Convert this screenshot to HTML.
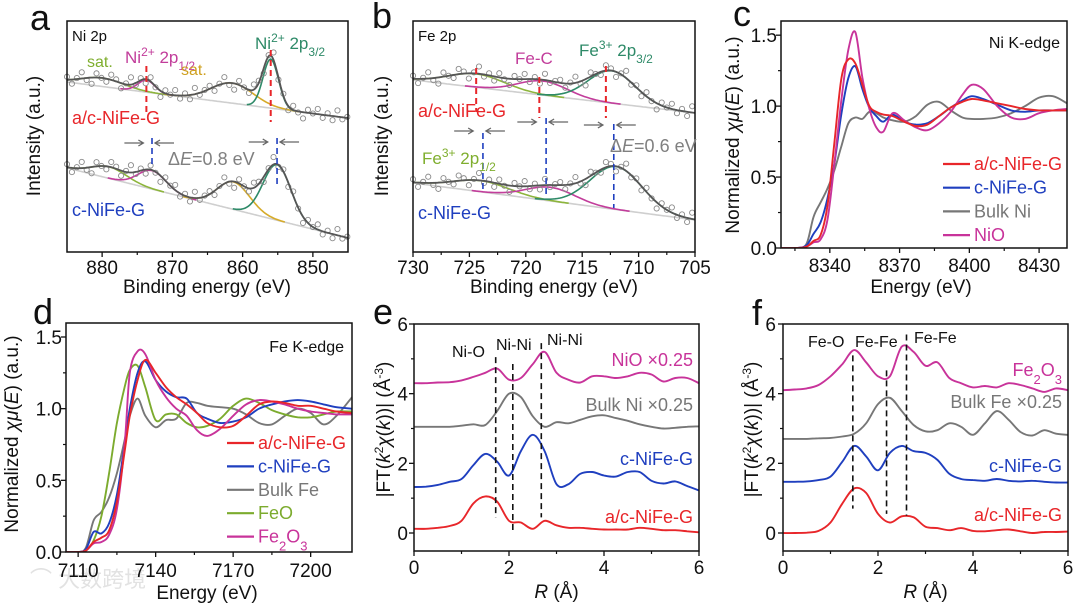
<!DOCTYPE html>
<html><head><meta charset="utf-8"><style>
html,body{margin:0;padding:0;background:#fff}
svg{display:block;font-family:"Liberation Sans","Noto Sans CJK SC",sans-serif}
</style></head><body>
<svg id="fig" width="1080" height="609" viewBox="0 0 1080 609">
<text x="30" y="587" font-size="22" fill="#e2e2e2">⌒ 大数跨境</text>
</svg>
<script>
const NS='http://www.w3.org/2000/svg';
const svg=document.getElementById('fig');
function el(tag,attrs,parent){const e=document.createElementNS(NS,tag);for(const k in attrs)e.setAttribute(k,attrs[k]);(parent||svg).appendChild(e);return e;}
function lin(d0,d1,r0,r1){return v=>r0+(v-d0)*(r1-r0)/(d1-d0);}
function smooth(pts){let d='M'+pts[0][0].toFixed(1)+','+pts[0][1].toFixed(1);
 for(let i=0;i<pts.length-1;i++){const p0=pts[Math.max(0,i-1)],p1=pts[i],p2=pts[i+1],p3=pts[Math.min(pts.length-1,i+2)];
 const c1=[p1[0]+(p2[0]-p0[0])/6,p1[1]+(p2[1]-p0[1])/6],c2=[p2[0]-(p3[0]-p1[0])/6,p2[1]-(p3[1]-p1[1])/6];
 d+='C'+c1.map(v=>v.toFixed(1))+' '+c2.map(v=>v.toFixed(1))+' '+p2[0].toFixed(1)+','+p2[1].toFixed(1);}return d;}
function poly(pts){return 'M'+pts.map(p=>p[0].toFixed(1)+','+p[1].toFixed(1)).join('L');}
function txt(x,y,s,opt,name){const t=el('text',{x:x,y:y,'font-size':opt.size||18,fill:opt.fill||'#111','text-anchor':opt.anchor||'start'});
 if(opt.rot)t.setAttribute('transform','rotate(-90 '+x+' '+y+')');
 t.innerHTML=s;
 
 
 return t;}
const SUP='<tspan baseline-shift="super" font-size="12">', SUB='<tspan baseline-shift="sub" font-size="12">', E='</tspan>';

function axes(name,box,xs,ys,xt,xm,yt,ym,xfmt,yfmt,xlabY,ylabX){
 const g=el('g',{});
 
 
 xt.forEach(v=>{const x=xs(v);const l=el('line',{x1:x,x2:x,y1:box[3],y2:box[3]+5,stroke:'#111','stroke-width':1.3},g);
  
  
  txt(x,xlabY,xfmt(v),{size:19,anchor:'middle'},name+'-x-tick-label');});
 xm.forEach(v=>{const x=xs(v);const l=el('line',{x1:x,x2:x,y1:box[3],y2:box[3]+3,stroke:'#111','stroke-width':1.2},g);
  
  });
 yt.forEach(v=>{const y=ys(v);const l=el('line',{x1:box[0]-5,x2:box[0],y1:y,y2:y,stroke:'#111','stroke-width':1.3},g);
  
  
  txt(ylabX,y+7,yfmt(v),{size:19,anchor:'end'},name+'-y-tick-label');});
 ym.forEach(v=>{const y=ys(v);const l=el('line',{x1:box[0]-3,x2:box[0],y1:y,y2:y,stroke:'#111','stroke-width':1.2},g);
  
  });
 return g;}
function frame(name,box){const r=el('rect',{x:box[0],y:box[1],width:box[2]-box[0],height:box[3]-box[1],fill:'none',stroke:'#111','stroke-width':1.5});
 
 }
function line(name,d,color,w,dash){const p=el('path',{d:d,fill:'none',stroke:color,'stroke-width':w||1.8,'stroke-dasharray':dash||'none'});
 
 return p;}

/* ---------- XPS data ---------- */
const noiseOffsets=[1.5,-2,0.5,3,-1,-3,2,0,-1.5,2.5,1,-2.5,0.5,3.5,-1,1,-2,2,-0.5,-3,1.5,0,2.5,-1.5,1,-2,3,-1,0.5];
const aTopBg=[73.6,58.0];
const aTopCenters=[880,873.7,861.5,856.0];
const aTopHeights=[3.7,5.2,8.7,21.2];
const aTopSigmas=[3.0,1.2,3.0,1.1];
const aBotBg=[36.4,6.1];
const aBotCenters=[879,872.9,861.3,855.1];
const aBotHeights=[5.0,8.0,11.9,24.0];
const aBotSigmas=[2.5,2.0,2.3,2.0];
const aCompColors=['#8db53c','#c23d9b','#d6ab2a','#2e8a68'];
const bTopBg=[74.5,60.2];
const bTopCenters=[724.4,718.5,712.4];
const bTopHeights=[5.8,6.1,14.0];
const bTopSigmas=[2.5,2.2,2.1];
const bBotBg=[29.9,13.9];
const bBotCenters=[724.0,717.8,712.0];
const bBotHeights=[4.8,5.9,18.6];
const bBotSigmas=[2.5,2.2,2.3];
const bCompColors=['#8db53c','#c23d9b','#2e8a68'];

function drawXPS(name,xs,ys,dom,bg,cen,hei,sig,cols,step,label){
 const bgf=e=>bg[0]+(bg[1]-bg[0])*(e-dom[0])/(dom[1]-dom[0]);
 const g=(e,i)=>hei[i]*Math.exp(-0.5*Math.pow((e-cen[i])/sig[i],2));
 const fit=e=>bgf(e)+cen.reduce((s,c,i)=>s+g(e,i),0);
 const dir=dom[1]<dom[0]?-1:1;const n=Math.round(Math.abs(dom[1]-dom[0])/0.2);
 const E=[];for(let k=0;k<=n;k++)E.push(dom[0]+dir*k*0.2);
 line(name+'-background',poly(E.map(e=>[xs(e),ys(bgf(e))])),'#cfcfcf',1.6);
 cen.forEach((c,i)=>{const pts=E.filter(e=>Math.abs(e-c)<3.2*sig[i]).map(e=>[xs(e),ys(bgf(e)+g(e,i))]);
  line(name+'-component-'+i,poly(pts),cols[i],1.6);});
 let k=0;const ng=el('g',{});
 
 
 for(let e=dom[0];dir<0?e>=dom[1]:e<=dom[1];e+=dir*step){const c=el('circle',{cx:xs(e),cy:ys(fit(e)+0.9*noiseOffsets[k%noiseOffsets.length]),r:2.6,fill:'none',stroke:'#8a8a8a','stroke-width':0.9},ng);
  
  k++;}
 line(name+'-fit',poly(E.map(e=>[xs(e),ys(fit(e))])),'#555',1.8);}

function arrows(name,xs,y,xa,xb){[[xa,-1],[xb,1]].forEach(([v,d])=>{const x=xs(v);
 const p=el('path',{d:'M'+(x+d*22)+','+y+'H'+(x+d*3)+'M'+(x+d*8)+','+(y-3)+'L'+(x+d*3)+','+y+'L'+(x+d*8)+','+(y+3),stroke:'#666','stroke-width':1.3,fill:'none'});
 
 });}

/* panel a */
(function(){const box=[67,21,348,252];const xs=lin(885,845,67,348),ys=lin(0,100,252,21);
 drawXPS('a-top',xs,ys,[885,845],aTopBg,aTopCenters,aTopHeights,aTopSigmas,aCompColors,0.7);
 drawXPS('a-bottom',xs,ys,[885,845],aBotBg,aBotCenters,aBotHeights,aBotSigmas,aCompColors,0.7);
 line('a-dash-red-1','M'+xs(873.7)+',66V116','#e8262a',2,'6,4');
 line('a-dash-red-2','M'+xs(856)+',50V122','#e8262a',2,'6,4');
 line('a-dash-blue-1','M'+xs(872.9)+',138V165','#1f3fbf',1.6,'6,4');
 line('a-dash-blue-2','M'+xs(855.1)+',138V185','#1f3fbf',1.6,'6,4');
 arrows('a-shift-arrow',xs,143,873.7,872.9);arrows('a-shift-arrow',xs,142,856,855.1);
 frame('a',box);
 axes('a',box,xs,ys,[880,870,860,850],[875,865,855],[],[],v=>v,v=>v,274,0);
 txt(30,30,'a',{size:36},'panel-a-letter');
 txt(72,41,'Ni 2p',{size:15},'a-title-ni2p');
 txt(87,67,'sat.',{size:16,fill:'#7fae2e'},'a-label-sat-left');
 txt(125,63,'Ni'+SUP+'2+'+E+' 2p'+SUB+'1/2'+E,{size:17,fill:'#c23d9b'},'a-label-ni-2p12');
 txt(181,75,'sat.',{size:16,fill:'#cfa020'},'a-label-sat-right');
 txt(255,49,'Ni'+SUP+'2+'+E+' 2p'+SUB+'3/2'+E,{size:17,fill:'#2e8a68'},'a-label-ni-2p32');
 txt(72,124,'a/c-NiFe-G',{size:18,fill:'#e8262a'},'a-label-acnife');
 txt(168,165,'Δ<tspan font-style="italic">E</tspan>=0.8 eV',{size:18,fill:'#808080'},'a-delta-e');
 txt(72,216,'c-NiFe-G',{size:18,fill:'#1f3fbf'},'a-label-cnife');
 txt(40,136,'Intensity (a.u.)',{size:19,anchor:'middle',rot:1},'a-y-axis-title');
 txt(207,293,'Binding energy (eV)',{size:19,anchor:'middle'},'a-x-axis-title');})();

/* panel b */
(function(){const box=[413,21,695,252];const xs=lin(730,705,413,695),ys=lin(0,100,252,21);
 drawXPS('b-top',xs,ys,[730,705],bTopBg,bTopCenters,bTopHeights,bTopSigmas,bCompColors,0.45);
 drawXPS('b-bottom',xs,ys,[730,705],bBotBg,bBotCenters,bBotHeights,bBotSigmas,bCompColors,0.45);
 [[724.4,68,112],[718.8,77,118],[712.9,66,118]].forEach(d=>line('b-dash-red','M'+xs(d[0])+','+d[1]+'V'+d[2],'#e8262a',2,'6,4'));
 [[723.8,133,190],[718.2,118,196],[712.2,124,208]].forEach(d=>line('b-dash-blue','M'+xs(d[0])+','+d[1]+'V'+d[2],'#1f3fbf',1.6,'6,4'));
 arrows('b-shift-arrow',xs,131,724.4,723.8);arrows('b-shift-arrow',xs,122,718.8,718.2);arrows('b-shift-arrow',xs,125,712.9,712.2);
 frame('b',box);
 axes('b',box,xs,ys,[730,725,720,715,710,705],[727.5,722.5,717.5,712.5,707.5],[],[],v=>v,v=>v,274,0);
 txt(372,28,'b',{size:36},'panel-b-letter');
 txt(418,41,'Fe 2p',{size:15},'b-title-fe2p');
 txt(515,64,'Fe-C',{size:17,fill:'#c23d9b'},'b-label-fec');
 txt(579,56,'Fe'+SUP+'3+'+E+' 2p'+SUB+'3/2'+E,{size:17,fill:'#2e8a68'},'b-label-fe-2p32');
 txt(418,117,'a/c-NiFe-G',{size:18,fill:'#e8262a'},'b-label-acnife');
 txt(422,164,'Fe'+SUP+'3+'+E+' 2p'+SUB+'1/2'+E,{size:17,fill:'#7fae2e'},'b-label-fe-2p12');
 txt(610,152,'Δ<tspan font-style="italic">E</tspan>=0.6 eV',{size:18,fill:'#808080'},'b-delta-e');
 txt(418,219,'c-NiFe-G',{size:18,fill:'#1f3fbf'},'b-label-cnife');
 txt(388,136,'Intensity (a.u.)',{size:19,anchor:'middle',rot:1},'b-y-axis-title');
 txt(554,293,'Binding energy (eV)',{size:19,anchor:'middle'},'b-x-axis-title');})();

/* ---------- XANES data ---------- */
const cEnergy=[8319,8326,8330,8333,8336,8339,8342,8345,8348,8351,8354,8357,8360,8363,8367,8372,8377,8382,8387,8392,8397,8401,8406,8412,8418,8424,8430,8436,8442];
const cAcNiFe=[0,0,0.01,0.05,0.09,0.3,0.75,1.2,1.33,1.3,1.15,1.0,0.96,0.94,0.93,0.89,0.86,0.87,0.93,0.99,1.03,1.05,1.04,1.02,1.0,0.98,0.97,0.97,0.97];
const cCNiFe=[0,0,0.02,0.1,0.18,0.35,0.6,0.95,1.2,1.28,1.12,0.99,0.93,0.89,0.94,0.89,0.87,0.88,0.93,0.99,1.04,1.07,1.05,1.01,0.97,0.96,0.97,0.97,0.97];
const cBulkNi=[0,0,0.03,0.22,0.32,0.42,0.55,0.72,0.88,0.92,0.91,0.96,0.95,0.92,0.9,0.89,0.93,1.01,1.03,0.97,0.92,0.91,0.91,0.92,0.95,1.0,1.06,1.07,1.02];
const cNiO=[0,0,0.01,0.04,0.06,0.2,0.6,1.05,1.4,1.52,1.2,0.98,0.85,0.82,0.95,0.9,0.85,0.83,0.88,0.96,1.08,1.15,1.12,1.0,0.92,0.91,0.95,0.97,0.98];
const cLegend=['a/c-NiFe-G','c-NiFe-G','Bulk Ni','NiO'];
const dEnergy=[7105,7110,7113,7116,7119,7122,7125,7128,7130,7133,7136,7140,7144,7148,7152,7156,7160,7165,7170,7175,7180,7185,7190,7195,7200,7205,7210,7216];
const dAcNiFe=[0,0,0.01,0.07,0.1,0.15,0.35,0.7,0.95,1.2,1.34,1.25,1.15,1.08,1.03,0.97,0.9,0.87,0.88,0.95,1.03,1.05,1.04,1.02,1.02,1.0,0.98,0.97];
const dCNiFe=[0,0,0.02,0.14,0.13,0.2,0.4,0.75,1.0,1.25,1.33,1.2,1.12,1.08,1.07,0.97,0.93,0.9,0.91,0.94,1.0,1.03,1.05,1.06,1.05,1.03,1.01,1.0];
const dBulkFe=[0,0,0.03,0.22,0.28,0.38,0.55,0.78,0.95,1.07,0.95,0.87,0.92,0.93,1.04,1.04,1.02,1.01,1.0,0.96,0.9,0.89,0.95,1.0,0.97,0.89,0.95,1.08];
const dFeO=[0,0,0.01,0.08,0.25,0.55,0.9,1.15,1.27,1.3,1.15,0.92,0.96,0.96,0.9,0.87,0.88,0.93,1.02,1.07,1.04,0.99,0.96,0.94,0.94,0.96,0.98,0.98];
const dFe2O3=[0,0,0.01,0.06,0.07,0.12,0.3,0.75,1.25,1.4,1.38,1.2,1.08,1.0,0.95,0.85,0.81,0.86,0.95,1.03,1.06,1.05,1.03,1.0,0.98,0.97,0.96,0.96];
const dLegend=['a/c-NiFe-G','c-NiFe-G','Bulk Fe','FeO','Fe<tspan baseline-shift="sub" font-size="13">2</tspan>O<tspan baseline-shift="sub" font-size="13">3</tspan>'];
const COL={red:'#e8262a',blue:'#1f3fbf',gray:'#777777',mag:'#c8339a',green:'#7cab2e'};

function drawSeries(name,xs,ys,X,Y,color){line(name,smooth(X.map((x,i)=>[xs(x),ys(Y[i])])),color,1.9);}
function legend(name,x,ys0,dy,labels,colors){labels.forEach((l,i)=>{const y=ys0+i*dy;
 line(name+'-legend-swatch-'+i,'M'+x+','+y+'H'+(x+27),colors[i],2.2);
 txt(x+31,y+6,l,{size:18,fill:colors[i]},name+'-legend-label-'+i);});}

/* panel c */
(function(){const box=[781,21,1067,248];const xs=lin(8319,8442,781,1067),ys=lin(0,1.6,248,21);
 const cp=el('clipPath',{id:'clipc'});el('rect',{x:box[0],y:box[1],width:box[2]-box[0],height:box[3]-box[1]},cp);
 const g=el('g',{'clip-path':'url(#clipc)'});
 
 
 [[cBulkNi,COL.gray,'bulk-ni'],[cCNiFe,COL.blue,'c-nife-g'],[cNiO,COL.mag,'nio'],[cAcNiFe,COL.red,'ac-nife-g']].forEach(s=>{const p=line('c-line-'+s[2],smooth(cEnergy.map((x,i)=>[xs(x),ys(s[0][i])])),s[1],1.9);g.appendChild(p);});
 frame('c',box);
 axes('c',box,xs,ys,[8340,8370,8400,8430],[8325,8355,8385,8415],[0,0.5,1,1.5],[0.25,0.75,1.25],v=>v,v=>v.toFixed(1),272,777);
 legend('c',943,164,23.7,cLegend,[COL.red,COL.blue,COL.gray,COL.mag]);
 txt(733,26,'c',{size:36},'panel-c-letter');
 txt(1060,48,'Ni K-edge',{size:16,anchor:'end'},'c-title-ni-kedge');
 txt(739,135,'Normalized <tspan font-style="italic">χμ</tspan>(<tspan font-style="italic">E</tspan>) (a.u.)',{size:19,anchor:'middle',rot:1},'c-y-axis-title');
 txt(921,293,'Energy (eV)',{size:19,anchor:'middle'},'c-x-axis-title');})();

/* panel d */
(function(){const box=[66,323,352,552];const xs=lin(7105.3,7216,66,352),ys=lin(0,1.5,552,337);
 const cp=el('clipPath',{id:'clipd'});el('rect',{x:box[0],y:box[1],width:box[2]-box[0],height:box[3]-box[1]},cp);
 const g=el('g',{'clip-path':'url(#clipd)'});
 
 
 [[dBulkFe,COL.gray,'bulk-fe'],[dFeO,COL.green,'feo'],[dCNiFe,COL.blue,'c-nife-g'],[dFe2O3,COL.mag,'fe2o3'],[dAcNiFe,COL.red,'ac-nife-g']].forEach(s=>{const p=line('d-line-'+s[2],smooth(dEnergy.map((x,i)=>[xs(x),ys(s[0][i])])),s[1],1.9);g.appendChild(p);});
 frame('d',box);
 axes('d',box,xs,ys,[7110,7140,7170,7200],[7125,7155,7185],[0,0.5,1,1.5],[0.25,0.75,1.25],v=>v,v=>v.toFixed(1),577,62);
 legend('d',227,443,23.4,dLegend,[COL.red,COL.blue,COL.gray,COL.green,COL.mag]);
 txt(33,324,'d',{size:36},'panel-d-letter');
 txt(344,352,'Fe K-edge',{size:16,anchor:'end'},'d-title-fe-kedge');
 txt(18,434,'Normalized <tspan font-style="italic">χμ</tspan>(<tspan font-style="italic">E</tspan>) (a.u.)',{size:19,anchor:'middle',rot:1},'d-y-axis-title');
 txt(207,599,'Energy (eV)',{size:19,anchor:'middle'},'d-x-axis-title');})();

/* ---------- EXAFS data ---------- */
const rGrid=[0,0.25,0.5,0.75,1,1.25,1.5,1.75,2,2.25,2.5,2.75,3,3.25,3.5,3.75,4,4.25,4.5,4.75,5,5.25,5.5,5.75,6];
const eNiO=[4.3,4.3,4.32,4.33,4.38,4.48,4.6,4.72,4.4,4.45,4.85,5.2,4.6,4.4,4.32,4.5,4.5,4.45,4.5,4.6,4.55,4.35,4.45,4.45,4.3];
const eBulkNi=[3.05,3.05,3.05,3.05,3.08,3.12,3.1,3.5,4.0,3.9,3.35,3.05,3.18,3.15,3.25,3.35,3.38,3.3,3.22,3.12,3.05,3.0,3.02,3.05,3.06];
const eCNiFe=[1.32,1.33,1.38,1.47,1.55,1.95,2.27,2.05,1.65,2.35,2.82,2.35,1.4,1.4,1.7,1.75,1.65,1.62,1.75,1.75,1.5,1.42,1.48,1.35,1.22];
const eAcNiFe=[0.12,0.12,0.15,0.2,0.35,0.85,1.05,0.9,0.35,0.3,0.12,0.35,0.22,0.15,0.15,0.12,0.1,0.1,0.1,0.15,0.12,0.08,0.08,0.05,0.02];
const eDashR=[1.72,2.08,2.68];
const eDashTop=[5.05,4.85,5.45];
const eDashBottom=[0.45,0.05,0.45];
const fFe2O3=[4.1,4.12,4.15,4.25,4.5,4.85,5.25,4.9,4.5,4.5,5.35,5.2,4.8,4.9,4.45,4.3,4.18,4.22,4.18,4.3,4.25,4.15,4.05,4.15,4.1];
const fBulkFe=[2.7,2.7,2.7,2.72,2.73,2.77,2.85,3.15,3.7,3.88,3.5,3.1,2.92,2.95,3.15,3.05,2.82,3.15,3.5,3.25,2.9,2.8,2.95,2.85,2.82];
const fCNiFe=[1.47,1.47,1.48,1.52,1.62,2.05,2.5,2.2,1.8,2.3,2.5,2.35,2.3,2.1,1.7,1.55,1.52,1.5,1.55,1.5,1.48,1.5,1.47,1.45,1.45];
const fAcNiFe=[0,0,0.01,0.06,0.3,0.85,1.28,1.15,0.55,0.3,0.48,0.45,0.18,0.14,0.08,0.14,0.06,0.05,0.08,0.1,0.05,0.0,0.03,0.03,0.04];
const fDashR=[1.47,2.18,2.6];
const fDashTop=[5.1,4.67,5.7];
const fDashBottom=[0.7,0.55,0.5];

function ftPanel(p,box,series,dashR,dashTop,dashBot,bonds,labels,ylabX){
 const xs=lin(0,6,box[0],box[2]),ys=lin(0,6,box[3]-18,box[1]);
 series.forEach(s=>drawSeries(p+'-line-'+s[2],xs,ys,rGrid,s[0],s[1]));
 dashR.forEach((r,i)=>line(p+'-dash-'+i,'M'+xs(r)+','+ys(dashTop[i])+'V'+ys(dashBot[i]),'#111',1.6,'6,4'));
 frame(p,box);
 axes(p,box,xs,ys,[0,2,4,6],[1,3,5],[0,2,4,6],[1,3,5],v=>v,v=>v,574,ylabX);
 bonds.forEach(b=>txt(b[0],b[1],b[2],{size:16},p+'-bond-label'));
 labels.forEach(l=>txt(box[2]-6,l[0],l[1],{size:18,fill:l[2],anchor:'end'},p+'-series-label'));
 txt(ylabX-18,(box[1]+box[3])/2-8,'|FT(<tspan font-style="italic">k</tspan>'+SUP+'2'+E+'<tspan font-style="italic">χ</tspan>(<tspan font-style="italic">k</tspan>))| (Å'+SUP+'-3'+E+')',{size:19,anchor:'middle',rot:1},p+'-y-axis-title');
 txt((box[0]+box[2])/2,598,'<tspan font-style="italic">R</tspan> (Å)',{size:19,anchor:'middle'},p+'-x-axis-title');}

ftPanel('e',[414,324,699,551],[[eNiO,COL.mag,'nio'],[eBulkNi,COL.gray,'bulk-ni'],[eCNiFe,COL.blue,'c-nife-g'],[eAcNiFe,COL.red,'ac-nife-g']],
 eDashR,eDashTop,eDashBottom,[[452,357,'Ni-O'],[496,350,'Ni-Ni'],[547,345,'Ni-Ni']],
 [[366,'NiO ×0.25',COL.mag],[411,'Bulk Ni ×0.25',COL.gray],[465,'c-NiFe-G',COL.blue],[523,'a/c-NiFe-G',COL.red]],408);
ftPanel('f',[783,324,1068,551],[[fFe2O3,COL.mag,'fe2o3'],[fBulkFe,COL.gray,'bulk-fe'],[fCNiFe,COL.blue,'c-nife-g'],[fAcNiFe,COL.red,'ac-nife-g']],
 fDashR,fDashTop,fDashBottom,[[808,347,'Fe-O'],[855,347,'Fe-Fe'],[914,343,'Fe-Fe']],
 [[376,'Fe<tspan baseline-shift="sub" font-size="13">2</tspan>O<tspan baseline-shift="sub" font-size="13">3</tspan>',COL.mag],[408,'Bulk Fe ×0.25',COL.gray],[472,'c-NiFe-G',COL.blue],[521,'a/c-NiFe-G',COL.red]],776);
txt(373,324,'e',{size:36},'panel-e-letter');
txt(752,325,'f',{size:36},'panel-f-letter');
</script>
</body></html>
